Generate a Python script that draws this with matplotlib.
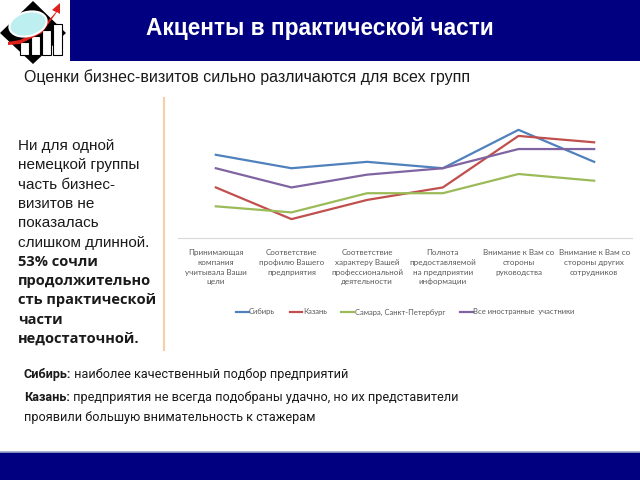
import matplotlib.pyplot as plt
from matplotlib.patches import Rectangle, Polygon, Ellipse
from matplotlib.lines import Line2D

# Data (arbitrary rating scale)
categories = [
    "Принимающая\nкомпания\nучитывала Ваши\nцели",
    "Соответствие\nпрофилю Вашего\nпредприятия",
    "Соответствие\nхарактеру Вашей\nпрофессиональной\nдеятельности",
    "Полнота\nпредоставляемой\nна предприятии\nинформации",
    "Внимание к Вам со\nстороны\nруководства",
    "Внимание к Вам со\nстороны других\nсотрудников",
]
siberia = [2.60, 2.18, 2.38, 2.18, 3.38, 2.38]
kazan = [1.58, 0.59, 1.19, 1.58, 3.19, 2.99]
samara_spb = [0.99, 0.80, 1.40, 1.40, 2.00, 1.79]
foreign_all = [2.18, 1.58, 1.98, 2.18, 2.78, 2.78]

series_names = ["Сибирь", "Казань", "Самара, Санкт-Петербург", "Все иностранные  участники"]
series_colors = ["#4F81BD", "#C0504D", "#9BBB59", "#8064A2"]

W, H = 640, 480
NOTE_FONT = "Roboto"
NOTE_SIZE = 9.1


def px(x, y):
    return x / W, 1 - y / H


fig = plt.figure(figsize=(6.4, 4.8), dpi=100)
fig.patch.set_facecolor("white")

# header and footer bands
fig.add_artist(Rectangle(px(70, 61), (W - 70) / W, 61 / H, transform=fig.transFigure,
                         facecolor="#000080", edgecolor="none"))
fig.add_artist(Rectangle(px(0, 480), 1, 28 / H, transform=fig.transFigure,
                         facecolor="#000080", edgecolor="none"))
fig.add_artist(Line2D([0, 1], [1 - 452 / H] * 2, transform=fig.transFigure,
                      color="#9aa6c8", lw=1.2))

# simple logo
logo = fig.add_axes([0, 1 - 66 / H, 70 / W, 66 / H])
logo.set_xlim(0, 70)
logo.set_ylim(66, 0)
logo.axis("off")
logo.add_patch(Polygon([[33, 1], [66, 33], [33, 64], [0, 33]], facecolor="black"))
for bx, bt in [(20, 42), (31, 36), (42, 30), (53, 24)]:
    logo.add_patch(Rectangle((bx, bt), 9, 55 - bt, facecolor="white", edgecolor="black", lw=0.8))
logo.add_patch(Polygon([[8, 42], [20, 40], [40, 30], [56, 12], [52, 10], [60, 3], [60, 14],
                        [57, 12], [42, 33], [20, 44], [8, 45]], facecolor="#e0201c"))
logo.add_patch(Ellipse((28, 24), 38, 24, angle=-15, facecolor="#bdeef0", edgecolor="white", lw=1.5))

fig.text(*px(320, 29), "Акценты в практической части", color="white", fontsize=16.3,
         fontweight="bold", family="Liberation Sans", ha="center", va="center")

fig.text(*px(24, 77), "Оценки бизнес-визитов сильно различаются для всех групп",
         fontsize=11.5, family="Liberation Sans", color="#1a1a1a", va="center")

# left comment text
left_lines = ["Ни для одной", "немецкой группы", "часть бизнес-", "визитов не",
              "показалась", "слишком длинной."]
bold_lines = ["53% сочли", "продолжительно", "сть практической", "части", "недостаточной."]
y = 146
for line in left_lines:
    fig.text(*px(18, y), line, fontsize=11, family="Liberation Sans", color="#1a1a1a", va="center")
    y += 19.3
for line in bold_lines:
    fig.text(*px(18, y), line, fontsize=10.5, family="Open Sans", fontweight="bold",
             color="#1a1a1a", va="center")
    y += 19.3

# orange separator
fig.add_artist(Line2D([164 / W] * 2, [1 - 98 / H, 1 - 350 / H], transform=fig.transFigure,
                      color="#f6cfa6", lw=1.5))

# chart
ax = fig.add_axes([178 / W, 1 - 238 / H, 454 / W, 128 / H])
x = range(len(categories))
for vals, name, c in zip([siberia, kazan, samara_spb, foreign_all], series_names, series_colors):
    ax.plot(x, vals, color=c, lw=1.6, label=name)
ax.set_xlim(-0.5, len(categories) - 0.5)
ax.set_ylim(0, 4)
for s in ["top", "right", "left"]:
    ax.spines[s].set_visible(False)
ax.spines["bottom"].set_color("#d9d9d9")
ax.set_yticks([])
ax.set_xticks(list(x))
ax.set_xticklabels(categories, fontsize=5.8, color="#595959", family="Lato", linespacing=1.45)
ax.tick_params(axis="x", length=0, pad=8)
leg = ax.legend(loc="center", bbox_to_anchor=(0.5, (238 - 312) / 128), ncol=4, frameon=False,
                handlelength=1.7, handletextpad=0.05, columnspacing=1.9,
                prop={"family": "Lato", "size": 5.5})
for t in leg.get_texts():
    t.set_color("#595959")

# bottom notes
def note(xp, yp, bold, normal):
    t1 = fig.text(*px(xp, yp), bold, fontsize=NOTE_SIZE, fontweight="bold",
                  family=NOTE_FONT, color="#1a1a1a", va="bottom")
    if normal:
        ax.annotate(normal, xy=(1, 0), xycoords=t1, fontsize=NOTE_SIZE, family=NOTE_FONT,
                    color="#1a1a1a", va="bottom", ha="left", annotation_clip=False)


note(24, 381, "Сибирь:", " наиболее качественный подбор предприятий")
note(24, 404, "Казань:", " предприятия не всегда подобраны удачно, но их представители")
fig.text(*px(24, 424), "проявили большую внимательность к стажерам", fontsize=NOTE_SIZE,
         family=NOTE_FONT, color="#1a1a1a", va="bottom")

fig.savefig("out.png", dpi=100)
